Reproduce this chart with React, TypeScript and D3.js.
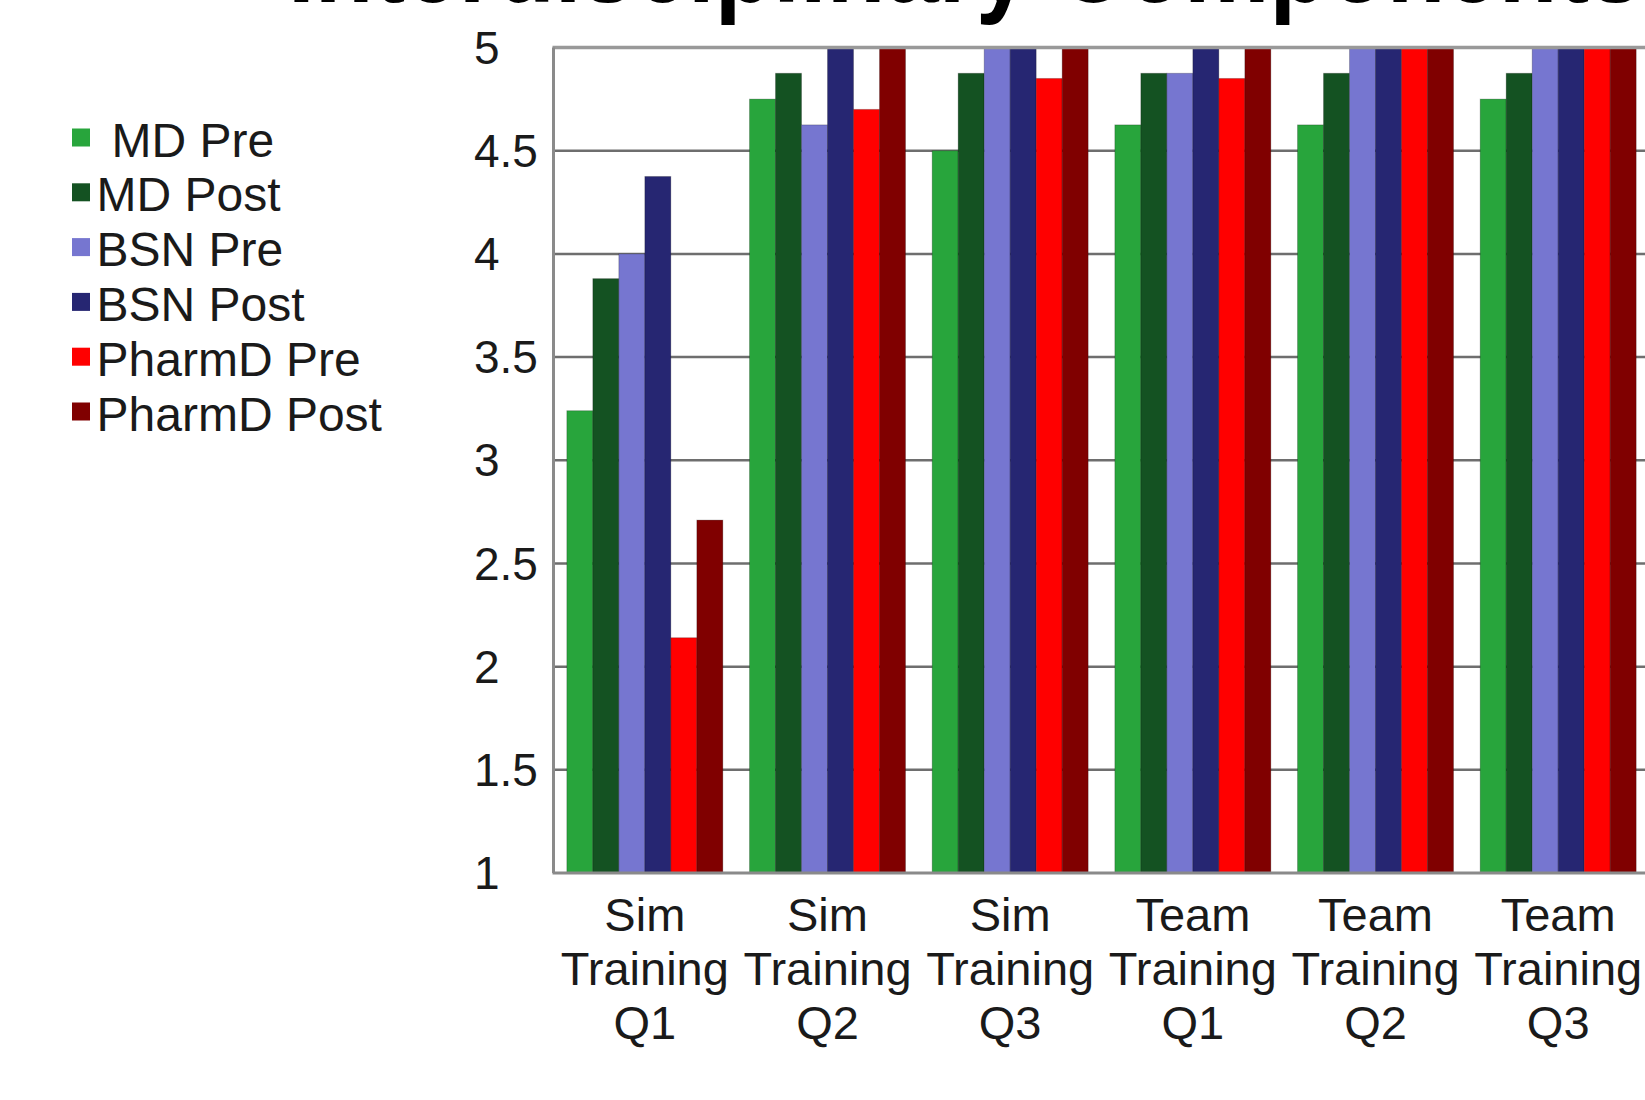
import React from "react";
import * as d3 from "d3";

const categories = [
  ["Sim", "Training", "Q1"],
  ["Sim", "Training", "Q2"],
  ["Sim", "Training", "Q3"],
  ["Team", "Training", "Q1"],
  ["Team", "Training", "Q2"],
  ["Team", "Training", "Q3"],
];

const seriesNames = ["MD Pre", "MD Post", "BSN Pre", "BSN Post", "PharmD Pre", "PharmD Post"];
const seriesColors = ["#28a53c", "#145222", "#7676d0", "#262672", "#ff0000", "#800000"];

const mdPre = [3.24, 4.75, 4.5, 4.625, 4.625, 4.75];
const mdPost = [3.88, 4.875, 4.875, 4.875, 4.875, 4.875];
const bsnPre = [4.0, 4.625, 5, 4.875, 5, 5];
const bsnPost = [4.375, 5, 5, 5, 5, 5];
const pharmPre = [2.14, 4.7, 4.85, 4.85, 5, 5];
const pharmPost = [2.71, 5, 5, 5, 5, 5];

const seriesValues = [mdPre, mdPost, bsnPre, bsnPost, pharmPre, pharmPost];

const yTicks = [1, 1.5, 2, 2.5, 3, 3.5, 4, 4.5, 5];
const title = "Interdisciplinary Components";

export default function App() {
  const W = 1645;
  const H = 1100;
  const left = 553.5;
  const right = 553.5 + 6 * 182.67;
  const top = 47.5;
  const bottom = 873;

  const y = d3.scaleLinear().domain([1, 5]).range([bottom, top]);
  const x0 = d3
    .scaleBand<number>()
    .domain(d3.range(categories.length))
    .range([left, right])
    .paddingInner(0.146)
    .paddingOuter(0.073);
  const x1 = d3
    .scaleBand<number>()
    .domain(d3.range(seriesNames.length))
    .range([0, x0.bandwidth()]);

  const font = "'Liberation Sans', Arial, sans-serif";

  return (
    <div style={{ position: "absolute", left: 0, top: 0 }}>
      <svg width={W} height={H} style={{ display: "block", background: "#fff" }}>
        <rect x={0} y={0} width={W} height={H} fill="#fff" />
        {/* title (cut off at top) */}
        <g transform="translate(288,2) scale(1,1.15)">
          <text x={0} y={0} fontFamily={font} fontWeight="bold" fontSize={96} fill="#000">
            {title}
          </text>
        </g>

        {/* gridlines */}
        {yTicks.slice(1, -1).map((t) => (
          <line
            key={t}
            x1={left}
            x2={right}
            y1={y(t)}
            y2={y(t)}
            stroke="#6e6e6e"
            strokeWidth={2.5}
          />
        ))}

        {/* bars */}
        {categories.map((c, ci) => (
          <g key={ci} transform={`translate(${x0(ci)},0)`}>
            {seriesValues.map((vals, si) => (
              <rect
                key={si}
                x={x1(si)}
                y={y(vals[ci])}
                width={x1.bandwidth()}
                height={y(1) - y(vals[ci])}
                fill={seriesColors[si]}
                stroke="rgba(0,0,0,0.22)"
                strokeWidth={1}
              />
            ))}
          </g>
        ))}

        {/* frame */}
        <line x1={left - 1} x2={right} y1={top} y2={top} stroke="#999" strokeWidth={3.5} />
        <line x1={left} x2={left} y1={top} y2={bottom} stroke="#8a8a8a" strokeWidth={3} />
        <line x1={left - 1} x2={right} y1={bottom} y2={bottom} stroke="#8a8a8a" strokeWidth={3} />

        {/* y tick labels */}
        {yTicks.map((t) => (
          <text
            key={t}
            x={474}
            y={y(t)}
            dy="0.35em"
            fontFamily={font}
            fontSize={46}
            fill="#1a1a1a"
          >
            {String(t)}
          </text>
        ))}

        {/* x labels */}
        {categories.map((c, ci) => {
          const cx = (x0(ci) as number) + x0.bandwidth() / 2;
          return (
            <text
              key={ci}
              x={cx}
              textAnchor="middle"
              fontFamily={font}
              fontSize={47}
              fill="#1a1a1a"
            >
              {c.map((line, li) => (
                <tspan key={li} x={cx} y={931 + li * 54}>
                  {line}
                </tspan>
              ))}
            </text>
          );
        })}

        {/* legend */}
        {seriesNames.map((name, i) => {
          const cy = 137.5 + i * 54.8;
          return (
            <g key={name}>
              <rect x={72} y={cy - 9} width={18} height={18} fill={seriesColors[i]} />
              <text
                x={i === 0 ? 111.5 : 96.5}
                y={cy + 19}
                fontFamily={font}
                fontSize={48}
                fill="#1a1a1a"
              >
                {name}
              </text>
            </g>
          );
        })}
      </svg>
    </div>
  );
}
